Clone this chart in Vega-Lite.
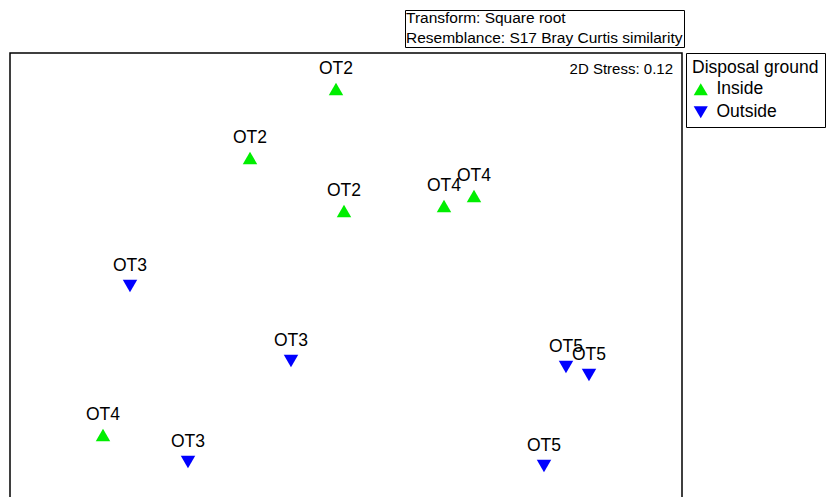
{
  "$schema": "https://vega.github.io/schema/vega-lite/v6.json",
  "autosize": {"type": "none"},
  "width": 672,
  "height": 460,
  "padding": {"left": 10, "top": 53, "right": 147, "bottom": 0},
  "background": "white",
  "title": {"text": "2D Stress: 0.12", "anchor": "end", "frame": "group", "orient": "top", "offset": -79, "dx": -9, "fontSize": 15, "fontWeight": "normal", "color": "black", "font": "Liberation Sans", "baseline": "alphabetic"},
  "config": {
    "view": {"stroke": "black", "strokeWidth": 1.5},
    "font": "Liberation Sans",
    "text": {"font": "Liberation Sans"}
  },
  "data": {
    "values": [
      {"label": "OT2", "group": "Inside", "x": -0.10, "y": 1.86},
      {"label": "OT2", "group": "Inside", "x": -0.96, "y": 1.17},
      {"label": "OT2", "group": "Inside", "x": -0.02, "y": 0.64},
      {"label": "OT4", "group": "Inside", "x": 0.98, "y": 0.69},
      {"label": "OT4", "group": "Inside", "x": 1.28, "y": 0.79},
      {"label": "OT4", "group": "Inside", "x": -2.43, "y": -1.60},
      {"label": "OT3", "group": "Outside", "x": -2.16, "y": -0.11},
      {"label": "OT3", "group": "Outside", "x": -0.55, "y": -0.86},
      {"label": "OT3", "group": "Outside", "x": -1.58, "y": -1.87},
      {"label": "OT5", "group": "Outside", "x": 2.20, "y": -0.92},
      {"label": "OT5", "group": "Outside", "x": 2.43, "y": -1.00},
      {"label": "OT5", "group": "Outside", "x": 1.98, "y": -1.91}
    ]
  },
  "encoding": {
    "x": {"field": "x", "type": "quantitative", "axis": null, "scale": {"domain": [-3.36, 3.36], "nice": false, "zero": false}},
    "y": {"field": "y", "type": "quantitative", "axis": null, "scale": {"domain": [-2.38, 2.22], "nice": false, "zero": false}}
  },
  "layer": [
    {
      "mark": {"type": "point", "filled": true, "opacity": 1, "size": 210},
      "encoding": {
        "color": {"field": "group", "type": "nominal", "scale": {"domain": ["Inside", "Outside"], "range": ["#00ee00", "#0000ff"]},
          "legend": {"title": "Disposal ground", "orient": "none", "legendX": 676, "legendY": 0, "strokeColor": "black", "padding": 6, "titleFontSize": 17.5, "titleFontWeight": "normal", "titleColor": "black", "labelFontSize": 17.5, "labelColor": "black", "symbolSize": 200, "rowPadding": 4, "titlePadding": 4, "labelOffset": 7, "labelFont": "Liberation Sans", "titleFont": "Liberation Sans", "symbolStrokeWidth": 0, "titleLimit": 400}},
        "shape": {"field": "group", "type": "nominal", "scale": {"domain": ["Inside", "Outside"], "range": ["triangle-up", "triangle-down"]}}
      }
    },
    {
      "mark": {"type": "text", "dy": -20, "fontSize": 17.5, "color": "black", "baseline": "middle"},
      "encoding": {
        "text": {"field": "label"},
        "opacity": {"datum": "note", "type": "nominal", "scale": {"range": [1, 1]},
          "legend": {"values": [], "title": ["Transform: Square root", "Resemblance: S17 Bray Curtis similarity"], "orient": "none", "legendX": 395, "legendY": -43, "strokeColor": "black", "padding": 1, "titleFontSize": 15.5, "titleFontWeight": "normal", "titleColor": "black", "titleLineHeight": 19.5, "titleFont": "Liberation Sans", "titlePadding": 0, "titleLimit": 400}}
      }
    }
  ]
}
